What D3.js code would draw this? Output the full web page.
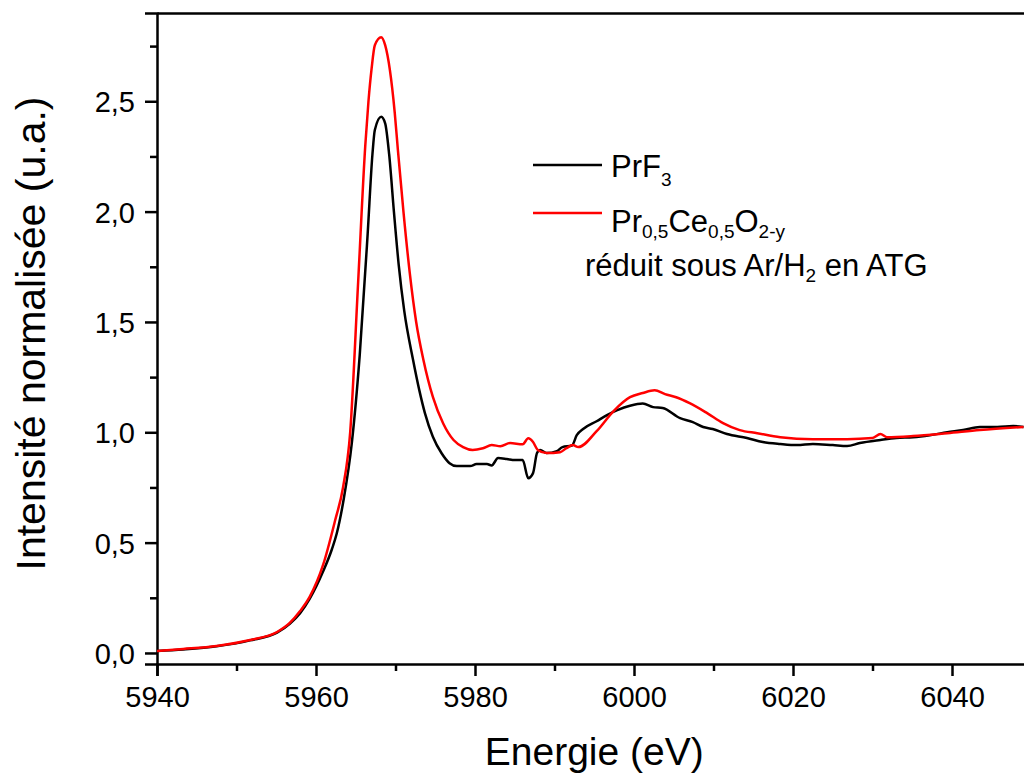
<!DOCTYPE html>
<html>
<head>
<meta charset="utf-8">
<script src="https://cdn.jsdelivr.net/npm/d3@7"></script>
<style>
  html, body { margin: 0; padding: 0; background: #fff; }
  svg { display: block; font-family: "Liberation Sans", Arial, sans-serif; }
</style>
</head>
<body>
<svg id="chart" width="1024" height="776"></svg>
<script>
// ---- data ----
const prf3Energy = [5940, 5943.3, 5947.5, 5951.7, 5955.1, 5956.7, 5958, 5959.2, 5960.9, 5962, 5962.6, 5963.5, 5964.5, 5965.5, 5966.5, 5967.1, 5967.4, 5968.2, 5968.7, 5969.2, 5969.8, 5970.4, 5971.1, 5972.2, 5973, 5973.7, 5974.7, 5975.8, 5976.8, 5977.7, 5979.4, 5980.2, 5981.5, 5982.1, 5982.9, 5984, 5985, 5986, 5986.7, 5987.3, 5987.8, 5988.2, 5989, 5990.3, 5991, 5992.2, 5992.8, 5993.6, 5995.3, 5996.6, 5997.9, 5999.5, 6001.1, 6002.4, 6003.6, 6005.8, 6007.4, 6008.7, 6009.9, 6011.7, 6014.2, 6016.2, 6018.4, 6020.5, 6022.5, 6025, 6026.8, 6028.4, 6031, 6033, 6035.1, 6037.2, 6039.4, 6041.4, 6043.5, 6045.7, 6047.7, 6049];
const prf3Intensity = [0.009, 0.016, 0.03, 0.057, 0.092, 0.132, 0.18, 0.245, 0.37, 0.47, 0.54, 0.7, 0.95, 1.35, 1.9, 2.26, 2.37, 2.43, 2.4, 2.26, 2.0, 1.76, 1.55, 1.33, 1.19, 1.087, 0.98, 0.905, 0.86, 0.847, 0.847, 0.856, 0.856, 0.85, 0.883, 0.879, 0.874, 0.874, 0.792, 0.815, 0.906, 0.92, 0.906, 0.915, 0.933, 0.94, 0.987, 1.015, 1.05, 1.078, 1.1, 1.12, 1.13, 1.114, 1.11, 1.064, 1.046, 1.024, 1.015, 0.992, 0.974, 0.956, 0.947, 0.942, 0.947, 0.942, 0.938, 0.951, 0.965, 0.974, 0.978, 0.987, 1.0, 1.01, 1.024, 1.024, 1.028, 1.024];

const pceEnergy = [5940, 5943.3, 5947.5, 5951.7, 5955.1, 5956.7, 5958, 5959.2, 5960.9, 5962.4, 5963.4, 5964.3, 5965.3, 5966.2, 5966.6, 5967.0, 5967.4, 5968.2, 5968.7, 5969.3, 5969.9, 5970.3, 5971, 5971.8, 5972.6, 5973.5, 5974.7, 5976, 5977.3, 5978.5, 5979.7, 5981, 5982.1, 5983.2, 5984.4, 5986, 5986.7, 5987.3, 5987.9, 5989, 5990.7, 5991.5, 5992.3, 5993, 5995.3, 5997.4, 5999.5, 6001.1, 6002.6, 6003.9, 6005.3, 6007, 6009.2, 6011.2, 6013.3, 6015.5, 6018.4, 6022.5, 6026.8, 6030, 6031, 6031.8, 6035.1, 6039.4, 6043.5, 6049];
const pceIntensity = [0.009, 0.018, 0.032, 0.059, 0.095, 0.136, 0.19, 0.254, 0.4, 0.6, 0.75, 1.0, 1.68, 2.3, 2.5, 2.65, 2.754, 2.79, 2.754, 2.64, 2.45, 2.28, 2.0, 1.72, 1.5, 1.33, 1.16, 1.04, 0.965, 0.933, 0.92, 0.928, 0.942, 0.937, 0.951, 0.946, 0.973, 0.956, 0.92, 0.906, 0.91, 0.928, 0.942, 0.933, 1.005, 1.095, 1.159, 1.178, 1.19, 1.173, 1.159, 1.132, 1.087, 1.042, 1.01, 0.996, 0.978, 0.969, 0.969, 0.974, 0.992, 0.978, 0.983, 0.996, 1.01, 1.024];

const xTicks = [5940, 5960, 5980, 6000, 6020, 6040];
const xMinorTicks = [5950, 5970, 5990, 6010, 6030, 6050];
const yTicks = [0, 0.5, 1.0, 1.5, 2.0, 2.5];
const yMinorTicks = [0.25, 0.75, 1.25, 1.75, 2.25, 2.75];
const seriesNames = ["PrF3", "Pr0,5Ce0,5O2-y"];
const seriesColors = ["#000000", "#ff0000"];

// ---- layout ----
const svg = d3.select("#chart");
const mLeft = 157, mRight = 1031.5, mTop = 13, mBottom = 664;
const x = d3.scaleLinear().domain([5940, 6050]).range([mLeft, mRight]);
const y = d3.scaleLinear().domain([-0.05, 2.9]).range([mBottom, mTop]);
const fmt = d => d3.format(".1f")(d).replace(".", ",");

// axes
const xAxis = svg.append("g").attr("transform", `translate(0,${mBottom})`)
  .call(d3.axisBottom(x).tickValues(xTicks).tickSize(12).tickPadding(10).tickFormat(d3.format("d")));
svg.append("g").attr("transform", `translate(0,${mBottom})`)
  .call(d3.axisBottom(x).tickValues(xMinorTicks).tickSize(7).tickFormat(""))
  .select(".domain").remove();
const yAxis = svg.append("g").attr("transform", `translate(${mLeft},0)`)
  .call(d3.axisLeft(y).tickValues(yTicks).tickSize(12).tickPadding(10).tickFormat(fmt));
svg.append("g").attr("transform", `translate(${mLeft},0)`)
  .call(d3.axisLeft(y).tickValues(yMinorTicks).tickSize(7).tickFormat(""))
  .select(".domain").remove();
// top frame
svg.append("g").attr("transform", `translate(0,${mTop})`)
  .call(d3.axisTop(x).tickValues([]).tickSizeOuter(0));

svg.selectAll(".domain").attr("stroke", "#000").attr("stroke-width", 2.5);
svg.selectAll(".tick line").attr("stroke", "#000").attr("stroke-width", 2.5);
svg.selectAll(".tick text").attr("fill", "#000").style("font-size", "29px")
  .style("font-family", '"Liberation Sans", Arial, sans-serif');
xAxis.selectAll(".tick text").attr("dy", "0.71em");
yAxis.selectAll(".tick text").attr("dy", "0.36em");

// axis titles
svg.append("text").attr("x", (mLeft + mRight) / 2).attr("y", 765)
  .attr("text-anchor", "middle").style("font-size", "39px").text("Energie (eV)");
svg.append("text").attr("transform", `translate(45,${(mTop + mBottom) / 2 - 5}) rotate(-90)`)
  .attr("text-anchor", "middle").style("font-size", "41px").text("Intensité normalisée (u.a.)");

// curves
const line = d3.line().x(d => x(d[0])).y(d => y(d[1])).curve(d3.curveMonotoneX);
const series = [
  d3.zip(prf3Energy, prf3Intensity),
  d3.zip(pceEnergy, pceIntensity)
];
const plot = svg.append("g");
plot.append("clipPath").attr("id", "clip").append("rect")
  .attr("x", mLeft).attr("y", mTop).attr("width", mRight - mLeft).attr("height", mBottom - mTop);
plot.selectAll("path.series").data(series).join("path")
  .attr("class", "series")
  .attr("clip-path", "url(#clip)")
  .attr("fill", "none")
  .attr("stroke", (d, i) => seriesColors[i])
  .attr("stroke-width", 2.5)
  .attr("stroke-linejoin", "round")
  .attr("d", line);

// legend
const lg = svg.append("g");
lg.append("line").attr("x1", 533).attr("x2", 602).attr("y1", 165).attr("y2", 165)
  .attr("stroke", seriesColors[0]).attr("stroke-width", 2.5);
lg.append("line").attr("x1", 533).attr("x2", 602).attr("y1", 213).attr("y2", 213)
  .attr("stroke", seriesColors[1]).attr("stroke-width", 2.5);

const t1 = lg.append("text").attr("x", 611).attr("y", 177).style("font-size", "31px");
t1.append("tspan").text("PrF");
t1.append("tspan").attr("dy", 9).style("font-size", "19px").text("3");

const t2 = lg.append("text").attr("x", 611).attr("y", 232).style("font-size", "31px");
t2.append("tspan").text("Pr");
t2.append("tspan").attr("dy", 6).style("font-size", "19px").text("0,5");
t2.append("tspan").attr("dy", -6).text("Ce");
t2.append("tspan").attr("dy", 6).style("font-size", "19px").text("0,5");
t2.append("tspan").attr("dy", -6).text("O");
t2.append("tspan").attr("dy", 6).style("font-size", "19px").text("2-y");

const t3 = lg.append("text").attr("x", 585).attr("y", 276).style("font-size", "31px");
t3.append("tspan").text("réduit sous Ar/H");
t3.append("tspan").attr("dy", 6).style("font-size", "19px").text("2");
t3.append("tspan").attr("dy", -6).text(" en ATG");
</script>
</body>
</html>
